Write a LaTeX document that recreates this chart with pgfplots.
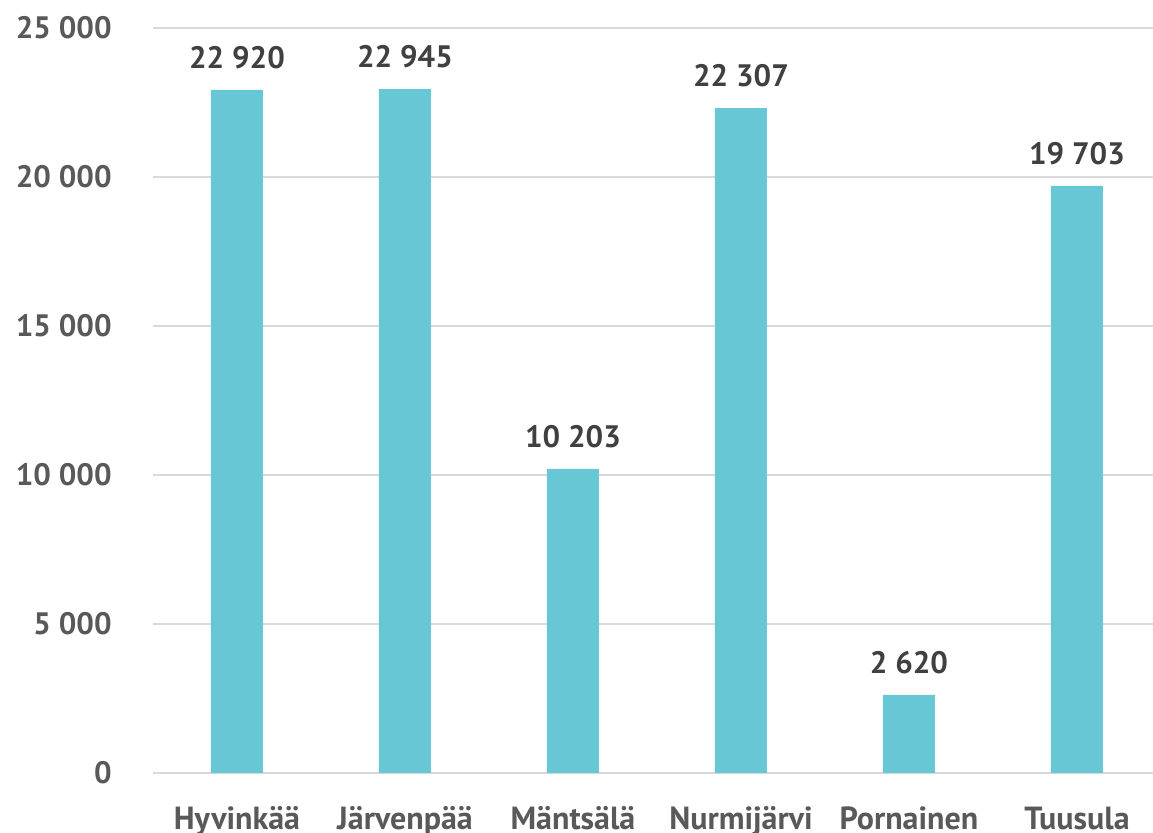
\documentclass[border=0pt]{standalone}
\usepackage{pgfplots}
\pgfplotsset{compat=1.18}
\usepackage{fontspec}
\setmainfont{PT Sans}
\definecolor{barc}{HTML}{67C7D5}
\definecolor{gridc}{HTML}{D9D9D9}
\definecolor{tickc}{HTML}{595959}
\definecolor{lblc}{HTML}{404040}
\begin{document}
\begin{tikzpicture}
\begin{axis}[
  at={(0,0)}, anchor=south west,
  scale only axis, width=504pt, height=372.5pt,
  xmin=-0.5, xmax=5.5, ymin=0, ymax=25000,
  scaled y ticks=false,
  ybar, bar width=26pt,
  axis line style={draw=none}, tick style={draw=none},
  ymajorgrids, grid style={line width=1pt, gridc},
  ytick={0,5000,10000,15000,20000,25000},
  yticklabels={0,5 000,10 000,15 000,20 000,25 000},
  xtick={0,1,2,3,4,5},
  xticklabels={Hyvinkää,Järvenpää,Mäntsälä,Nurmijärvi,Pornainen,Tuusula},
  yticklabel style={font=\fontsize{15.5}{18}\selectfont\bfseries, tickc, anchor=east, inner sep=0pt, xshift=-20.5pt},
  xticklabel style={font=\fontsize{16}{19}\selectfont\bfseries, tickc, anchor=north, inner sep=0pt, yshift=-12.5pt},
  point meta=explicit symbolic,
  nodes near coords,
  nodes near coords style={font=\fontsize{15.5}{18}\selectfont\bfseries, lblc, anchor=south, inner sep=0pt, yshift=10.5pt},
]
\addplot[fill=barc, draw=none] coordinates {
  (0,22920) [22 920]
  (1,22945) [22 945]
  (2,10203) [10 203]
  (3,22307) [22 307]
  (4,2620) [2 620]
  (5,19703) [19 703]
};
\end{axis}
\pgfresetboundingbox
\useasboundingbox (-76.5pt,-30pt) rectangle (500pt,386.5pt);
\end{tikzpicture}
\end{document}
